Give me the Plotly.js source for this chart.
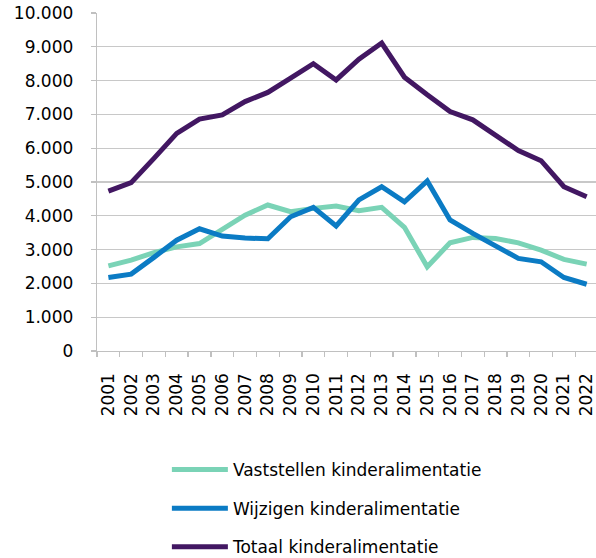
<!DOCTYPE html>
<html>
<head>
<meta charset="utf-8">
<script src="https://cdn.plot.ly/plotly-3.0.1.min.js"></script>
<style>html,body{margin:0;padding:0;background:#fff;}#chart{width:596px;height:558px;}</style>
</head>
<body>
<div id="chart"></div>
<script>
const years = ["2001","2002","2003","2004","2005","2006","2007","2008","2009","2010","2011","2012","2013","2014","2015","2016","2017","2018","2019","2020","2021","2022"];
const vaststellen = [2520,2690,2910,3080,3180,3580,4020,4320,4120,4220,4290,4150,4250,3660,2490,3200,3360,3330,3200,2985,2710,2570];
const wijzigen = [2175,2275,2770,3280,3615,3400,3340,3320,3970,4250,3700,4470,4860,4415,5030,3875,3480,3110,2740,2640,2175,1975];
const totaal = [4730,4980,5700,6440,6860,6985,7380,7650,8070,8500,8020,8635,9110,8100,7580,7085,6840,6390,5930,5630,4860,4565];
const seriesNames = ["Vaststellen kinderalimentatie","Wijzigen kinderalimentatie","Totaal kinderalimentatie"];
const yTicks = [0,1000,2000,3000,4000,5000,6000,7000,8000,9000,10000];

const colors = ["#7ad3b6","#0b7bc4","#421762"];
const data = [vaststellen, wijzigen, totaal].map((vals, i) => ({
  type: "scatter", mode: "lines", x: years, y: vals, name: seriesNames[i],
  line: {color: colors[i], width: 5, shape: "linear"},
  legendgroup: "g" + i, hoverinfo: "skip"
}));

const layout = {
  width: 596, height: 558,
  margin: {l: 97, r: 0, t: 13.3, b: 207.3, autoexpand: false},
  paper_bgcolor: "#fff", plot_bgcolor: "#fff",
  font: {family: "DejaVu Sans, Verdana, sans-serif", size: 17, color: "#000"},
  separators: ",.",
  showlegend: true,
  xaxis: {
    type: "category", range: [-0.5, 21.41], tickangle: -90,
    tickmode: "array", tickvals: years, ticktext: years,
    showgrid: false, showline: true, linecolor: "#c0c0c0", linewidth: 1.3,
    ticks: "outside", tickson: "boundaries", ticklen: 5, tickcolor: "#c0c0c0", tickwidth: 1.3,
    ticklabelstandoff: 14, automargin: false,
    tickfont: {size: 17}, fixedrange: true
  },
  yaxis: {
    range: [0, 10000], tickvals: yTicks, tickformat: ",d",
    showgrid: true, gridcolor: "#c8c8c8", gridwidth: 1.3,
    showline: true, linecolor: "#c0c0c0", linewidth: 1.3,
    zeroline: false, automargin: false,
    ticks: "outside", ticklen: 5, tickcolor: "#c0c0c0", tickwidth: 1.3,
    ticklabelstandoff: 14,
    tickfont: {size: 17}, fixedrange: true
  },
  legend: {
    orientation: "v", xref: "container", yref: "container",
    x: 0.28, xanchor: "left", y: 1 - 452/558, yanchor: "top",
    tracegroupgap: 13.5, bgcolor: "rgba(0,0,0,0)",
    font: {size: 17}, itemwidth: 56
  }
};

Plotly.newPlot("chart", data, layout, {displayModeBar: false, staticPlot: true});
</script>
</body>
</html>
